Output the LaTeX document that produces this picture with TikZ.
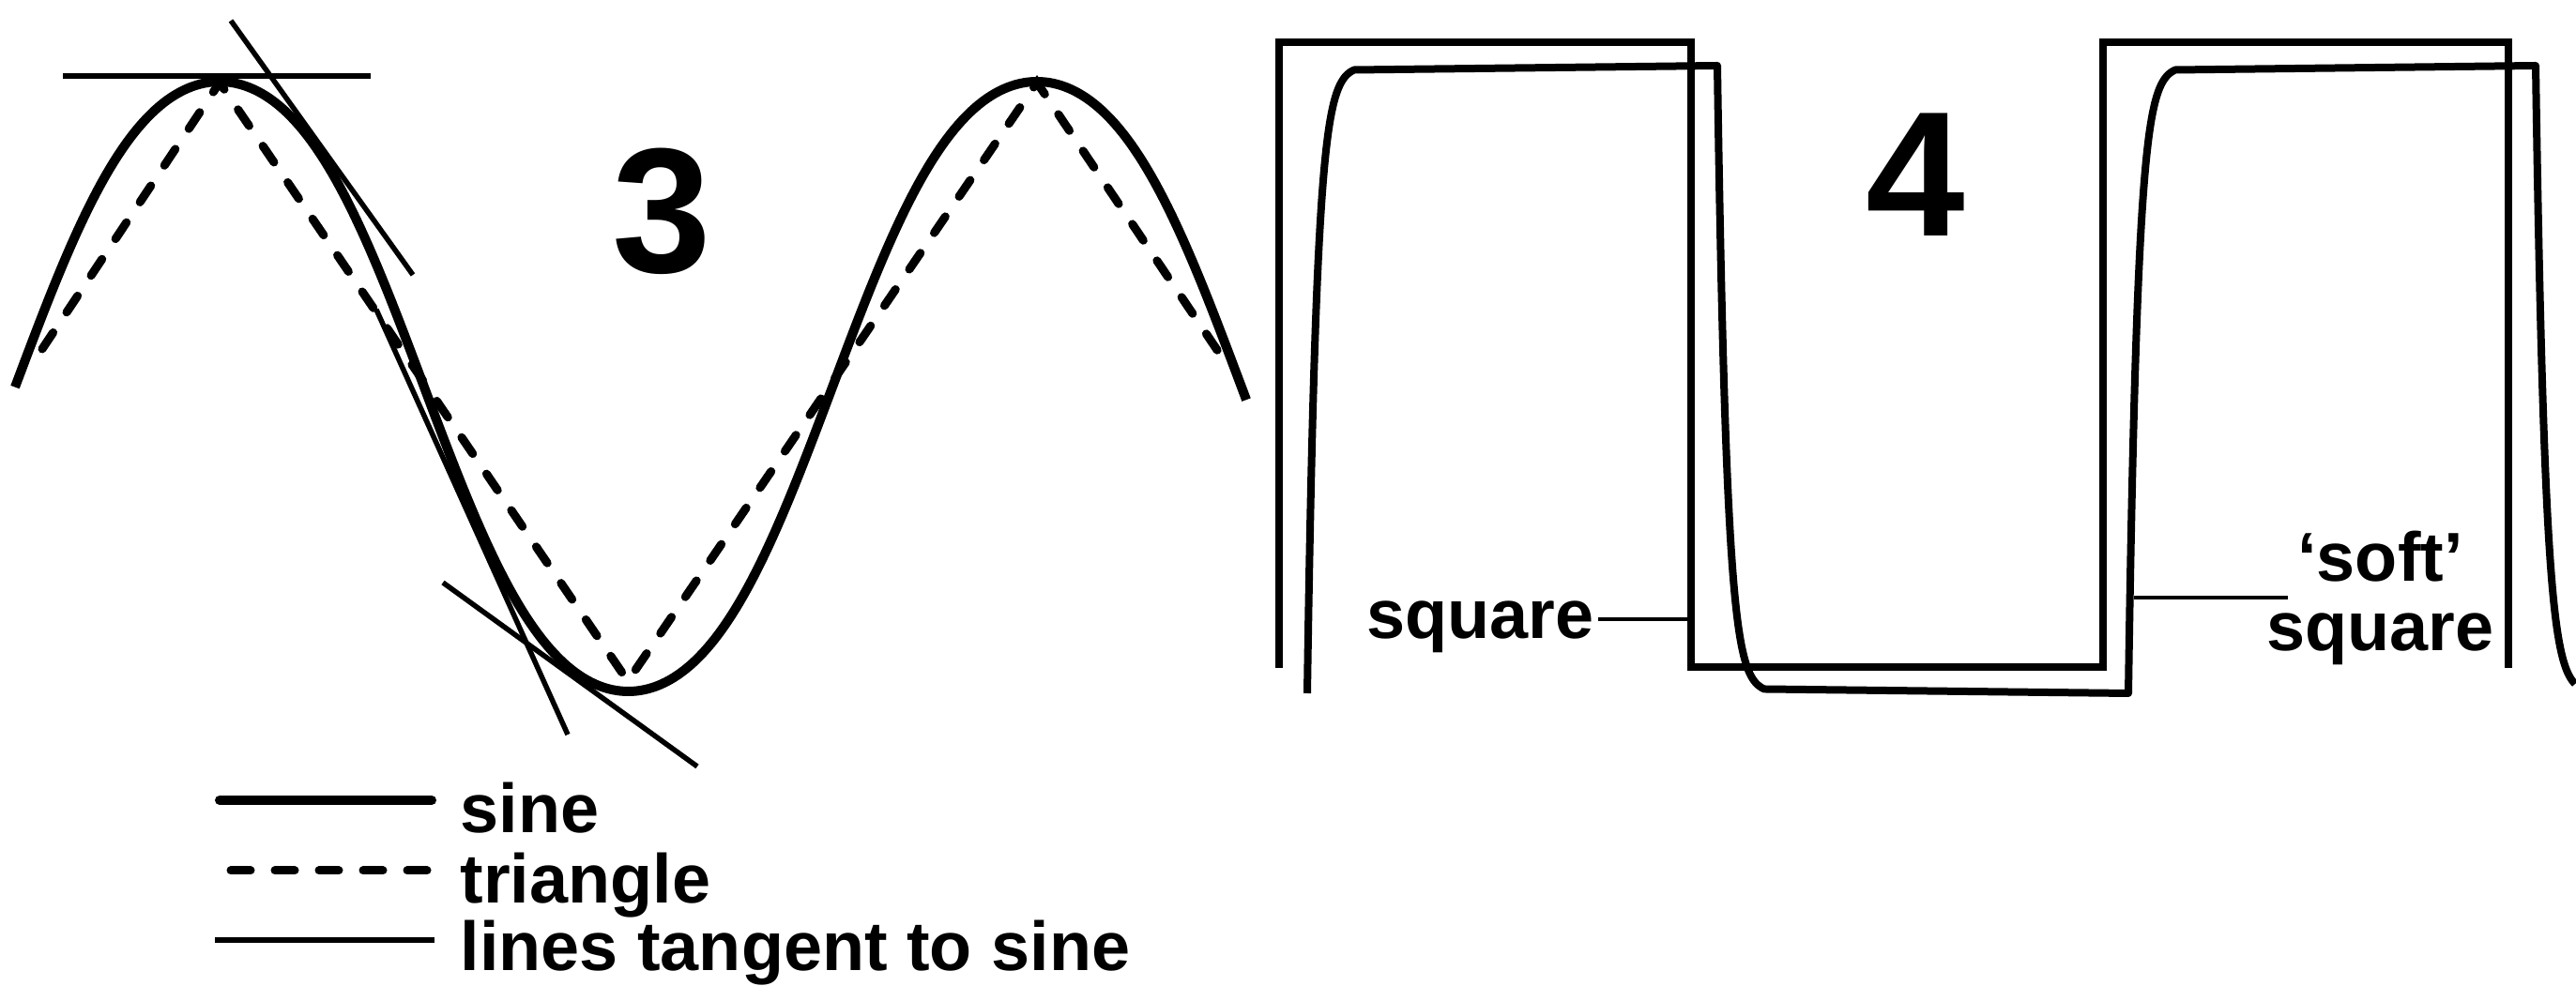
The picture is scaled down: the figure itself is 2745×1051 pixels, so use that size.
\documentclass[tikz,border=0pt]{standalone}
\usepackage{fontspec}
\setmainfont{Liberation Sans}
\begin{document}
\begin{tikzpicture}[x=0.1mm,y=-0.1mm,
  sinecurve/.style={line width=1.0mm},
  triline/.style={line width=0.9mm,line cap=round,dash pattern=on 2.1mm off 2.6mm},
  tanline/.style={line width=0.55mm},
  sqwave/.style={line width=0.8mm,line join=miter},
  softwave/.style={line width=0.8mm,line join=round},
  leader/.style={line width=0.45mm},
  lbl/.style={font=\fontsize{21pt}{21pt}\selectfont\bfseries,inner sep=0pt},
  bignum/.style={font=\fontsize{54pt}{54pt}\selectfont\bfseries,inner sep=0pt}]
\fill[white] (0,0) rectangle (2745,1051);
\useasboundingbox (0,0) rectangle (2745,1051);

% ---------- panel 3 ----------
\draw[sinecurve] plot[domain=-90.1:452.2,samples=300,variable=\t]
  ({234+2.41944*\t},{412-336.1*(cos(\t)-0.033*cos(3*\t))});

\coordinate (tL)  at (45,372);
\coordinate (tP1) at (234,88);
\coordinate (tT)  at (669,726);
\coordinate (tP2) at (1105,88);
\coordinate (tR)  at (1303,382);
\draw[triline] (tL) -- (tP1) -- (tT) -- (tP2) -- (tR);

\coordinate (ta1) at (67,81);   \coordinate (ta2) at (395,81);
\coordinate (tb1) at (246,22);  \coordinate (tb2) at (440,293);
\coordinate (tc1) at (401,330); \coordinate (tc2) at (605,783);
\coordinate (td1) at (472,621); \coordinate (td2) at (743,817);
\draw[tanline] (ta1) -- (ta2);
\draw[tanline] (tb1) -- (tb2);
\draw[tanline] (tc1) -- (tc2);
\draw[tanline] (td1) -- (td2);

\node[bignum,anchor=base] (n3) at (705,291) {3};

% legend
\node[lbl,anchor=base west] (lsine) at (490,888) {sine};
\node[lbl,anchor=base west] (ltri) at (490,963) {triangle};
\node[lbl,anchor=base west] (ltan) at (490,1035) {lines tangent to sine};
\coordinate (ls1) at (234,853);  \coordinate (ls2) at (460,853);
\coordinate (lt1) at (246,928);  \coordinate (lt2) at (460,928);
\coordinate (lg1) at (229,1002); \coordinate (lg2) at (463,1002);
\draw[sinecurve,line cap=round] (ls1) -- (ls2);
\draw[triline] (lt1) -- (lt2);
\draw[tanline] (lg1) -- (lg2);

% ---------- panel 4 ----------
\draw[sqwave] (1363,712) -- (1363,45) -- (1802,45) -- (1802,711) -- (2241,711)
  -- (2241,45) -- (2673,45) -- (2673,712);

\draw[softwave]
  plot[domain=0:5,samples=70,variable=\u] ({1393+10*\u},{70+669*exp(-\u)})
  -- (1830,70)
  -- plot[domain=0:5,samples=70,variable=\u] ({1830+10*\u},{739-669*exp(-\u)})
  -- (2268,739)
  -- plot[domain=0:5,samples=70,variable=\u] ({2268+10*\u},{70+669*exp(-\u)})
  -- (2702,70)
  -- plot[domain=0:4.2,samples=60,variable=\u] ({2702+10*\u},{739-669*exp(-\u)});

\node[bignum,anchor=base] (n4) at (2041,252) {4};

\node[lbl,anchor=base east] (sql) at (1699,681) {square};
\coordinate (sqhit) at (1798,660);
\draw[leader] ([xshift=0.4mm]sql.east |- sqhit) -- (sqhit);

\node[lbl,align=center] (softl) at (2536.5,637.7) {‘soft’\\square};
\coordinate (softhit) at (2274,637);
\draw[leader] (softhit) -- ([xshift=2.3mm]softl.west |- softhit);
\end{tikzpicture}
\end{document}
